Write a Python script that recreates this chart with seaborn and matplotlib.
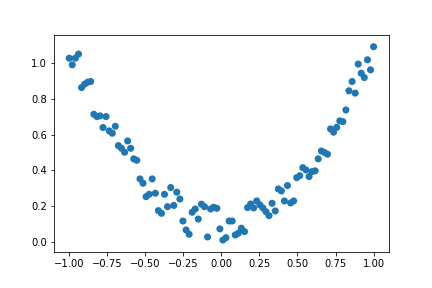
import matplotlib
matplotlib.use("Agg")
import matplotlib.pyplot as plt
import seaborn as sns
import pandas as pd

x_neg = [
    -1.000, -0.980, -0.960, -0.939, -0.919, -0.899, -0.879, -0.859, -0.838, -0.818,
    -0.798, -0.778, -0.758, -0.737, -0.717, -0.697, -0.677, -0.657, -0.636, -0.616,
    -0.596, -0.576, -0.556, -0.535, -0.515, -0.495, -0.475, -0.455, -0.434, -0.414,
    -0.394, -0.374, -0.354, -0.333, -0.313, -0.293, -0.273, -0.253, -0.232, -0.212,
    -0.192, -0.172, -0.152, -0.131, -0.111, -0.091, -0.071, -0.051, -0.030, -0.010,
]
x_pos = [
    0.010, 0.030, 0.051, 0.071, 0.091, 0.111, 0.131, 0.152, 0.172, 0.192,
    0.212, 0.232, 0.253, 0.273, 0.293, 0.313, 0.333, 0.354, 0.374, 0.394,
    0.414, 0.434, 0.455, 0.475, 0.495, 0.515, 0.535, 0.556, 0.576, 0.596,
    0.616, 0.636, 0.657, 0.677, 0.697, 0.717, 0.737, 0.758, 0.778, 0.798,
    0.818, 0.838, 0.859, 0.879, 0.899, 0.919, 0.939, 0.960, 0.980, 1.000,
]

y_values = [
    1.026, 0.989, 1.026, 1.049, 0.862, 0.881, 0.892, 0.896, 0.713, 0.700,
    0.704, 0.639, 0.700, 0.620, 0.607, 0.646, 0.538, 0.523, 0.501, 0.564,
    0.523, 0.464, 0.456, 0.352, 0.328, 0.253, 0.266, 0.352, 0.272, 0.175,
    0.160, 0.266, 0.197, 0.304, 0.204, 0.278, 0.240, 0.117, 0.067, 0.043,
    0.166, 0.184, 0.128, 0.211, 0.197, 0.028, 0.184, 0.194, 0.188, 0.073,
    0.011, 0.024, 0.117, 0.117, 0.039, 0.049, 0.077, 0.058, 0.192, 0.212,
    0.190, 0.229, 0.207, 0.190, 0.169, 0.147, 0.216, 0.173, 0.296, 0.285,
    0.229, 0.315, 0.218, 0.229, 0.359, 0.370, 0.415, 0.402, 0.365, 0.393,
    0.397, 0.464, 0.508, 0.500, 0.490, 0.631, 0.613, 0.640, 0.676, 0.672,
    0.737, 0.844, 0.896, 0.831, 0.993, 0.942, 0.918, 1.017, 0.961, 1.090,
]

x_ticks = [-1.0, -0.75, -0.5, -0.25, 0.0, 0.25, 0.5, 0.75, 1.0]

df = pd.DataFrame({"x": x_neg + x_pos, "y": y_values})

fig, ax = plt.subplots(figsize=(6, 4), dpi=72)
fig.subplots_adjust(left=0.125, right=0.9, top=0.88, bottom=0.125)
sns.scatterplot(data=df, x="x", y="y", ax=ax, color="#1f77b4", s=50,
                linewidth=0, edgecolor="none")
ax.set_xlabel("")
ax.set_ylabel("")
ax.set_ylim(-0.056, 1.158)
ax.set_xticks(x_ticks)
fig.savefig("out.png", dpi=72)
